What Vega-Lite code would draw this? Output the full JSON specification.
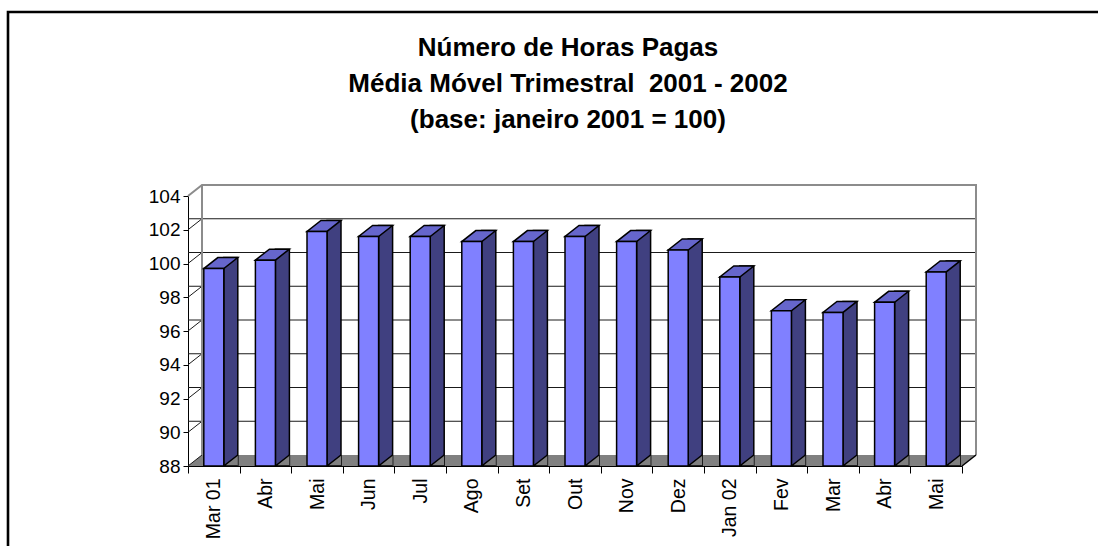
{
  "$schema": "https://vega.github.io/schema/vega-lite/v6.json",
  "autosize": "none",
  "width": 774,
  "height": 270,
  "padding": {"left": 188, "top": 196, "right": 136, "bottom": 80},
  "background": "white",
  "config": {
    "view": {"stroke": null},
    "font": "Liberation Sans",
    "axis": {"labelFont": "Liberation Sans", "labelColor": "black", "domainColor": "black", "tickColor": "black", "labelOverlap": false, "grid": false}
  },
  "title": {
    "text": ["Número de Horas Pagas", "Média Móvel Trimestral\u00a0 2001 - 2002", "(base: janeiro 2001 = 100)"],
    "font": "Liberation Sans",
    "fontSize": 26,
    "fontWeight": "bold",
    "lineHeight": 36,
    "anchor": "middle",
    "dx": -7,
    "offset": -126,
    "color": "black"
  },
  "data": {
    "values": [
      {"mes": "Mar 01", "valor": 99.7},
      {"mes": "Abr 01", "valor": 100.2},
      {"mes": "Mai 01", "valor": 101.9},
      {"mes": "Jun 01", "valor": 101.6},
      {"mes": "Jul 01", "valor": 101.6},
      {"mes": "Ago 01", "valor": 101.3},
      {"mes": "Set 01", "valor": 101.3},
      {"mes": "Out 01", "valor": 101.6},
      {"mes": "Nov 01", "valor": 101.3},
      {"mes": "Dez 01", "valor": 100.8},
      {"mes": "Jan 02", "valor": 99.2},
      {"mes": "Fev 02", "valor": 97.2},
      {"mes": "Mar 02", "valor": 97.1},
      {"mes": "Abr 02", "valor": 97.7},
      {"mes": "Mai 02", "valor": 99.5}
    ]
  },
  "layer": [
    {
      "data": {"values": [{"v": 88}]},
      "mark": {"type": "point", "shape": "M0,0 L774,0 L788,-11 L14,-11 Z", "size": 4, "filled": true, "fill": "#808080", "stroke": null, "opacity": 1},
      "encoding": {
        "x": {"datum": "Mar 01", "bandPosition": 0, "type": "nominal", "title": null,
          "scale": {"domain": ["Mar 01", "Abr 01", "Mai 01", "Jun 01", "Jul 01", "Ago 01", "Set 01", "Out 01", "Nov 01", "Dez 01", "Jan 02", "Fev 02", "Mar 02", "Abr 02", "Mai 02"], "paddingInner": 0, "paddingOuter": 0},
          "axis": {"title": null, "labelAngle": -90, "labelAlign": "right", "labelBaseline": "middle", "labelFontSize": 19.5, "labelPadding": 5, "tickBand": "extent", "tickSize": 7, "domainWidth": 1, "labelExpr": "datum.value == null ? '' : (datum.value == 'Mar 01' || datum.value == 'Jan 02' ? datum.value : substring(datum.value, 0, 3))"}},
        "y": {"field": "v", "type": "quantitative", "title": null, "scale": {"domain": [88, 104], "zero": false, "nice": false},
          "axis": {"title": null, "values": [88, 90, 92, 94, 96, 98, 100, 102, 104], "labelFontSize": 19, "tickSize": 5, "labelPadding": 3, "grid": false}}
      }
    },
    {
      "data": {"values": [{"v": 90}, {"v": 92}, {"v": 94}, {"v": 96}, {"v": 98}, {"v": 100}, {"v": 102}]},
      "mark": {"type": "rule", "color": "#1a1a1a", "strokeWidth": 1, "xOffset": 14, "x2Offset": 14, "yOffset": -11},
      "encoding": {"y": {"field": "v", "type": "quantitative", "title": null,
        "axis": {"title": null, "values": [88, 90, 92, 94, 96, 98, 100, 102, 104], "labelFontSize": 19, "tickSize": 5, "labelPadding": 3, "grid": false}}}
    },
    {
      "data": {"values": [{"v": 88}, {"v": 90}, {"v": 92}, {"v": 94}, {"v": 96}, {"v": 98}, {"v": 100}, {"v": 102}]},
      "mark": {"type": "point", "shape": "M0,0 L14,-11", "size": 4, "filled": false, "stroke": "#1a1a1a", "strokeWidth": 1, "opacity": 1},
      "encoding": {
        "x": {"datum": "Mar 01", "bandPosition": 0, "type": "nominal", "title": null,
          "axis": {"title": null, "labelAngle": -90, "labelAlign": "right", "labelBaseline": "middle", "labelFontSize": 19.5, "labelPadding": 5, "tickBand": "extent", "tickSize": 7, "domainWidth": 1, "labelExpr": "datum.value == null ? '' : (datum.value == 'Mar 01' || datum.value == 'Jan 02' ? datum.value : substring(datum.value, 0, 3))"}},
        "y": {"field": "v", "type": "quantitative", "title": null,
          "axis": {"title": null, "values": [88, 90, 92, 94, 96, 98, 100, 102, 104], "labelFontSize": 19, "tickSize": 5, "labelPadding": 3, "grid": false}}
      }
    },
    {
      "data": {"values": [{"v": 104}]},
      "mark": {"type": "point", "shape": "M0,0 L14,-11 L788,-11 L788,259 M14,-11 L14,259", "size": 4, "filled": false, "stroke": "#8c8c8c", "strokeWidth": 2, "opacity": 1},
      "encoding": {
        "x": {"datum": "Mar 01", "bandPosition": 0, "type": "nominal", "title": null,
          "axis": {"title": null, "labelAngle": -90, "labelAlign": "right", "labelBaseline": "middle", "labelFontSize": 19.5, "labelPadding": 5, "tickBand": "extent", "tickSize": 7, "domainWidth": 1, "labelExpr": "datum.value == null ? '' : (datum.value == 'Mar 01' || datum.value == 'Jan 02' ? datum.value : substring(datum.value, 0, 3))"}},
        "y": {"field": "v", "type": "quantitative", "title": null,
          "axis": {"title": null, "values": [88, 90, 92, 94, 96, 98, 100, 102, 104], "labelFontSize": 19, "tickSize": 5, "labelPadding": 3, "grid": false}}
      }
    },
    {
      "data": {"values": [{"v": 104}]},
      "mark": {"type": "point", "shape": "M-180,360 L-180,-184 L960,-184", "size": 4, "filled": false, "stroke": "black", "strokeWidth": 2.6, "opacity": 1},
      "encoding": {
        "x": {"datum": "Mar 01", "bandPosition": 0, "type": "nominal", "title": null,
          "axis": {"title": null, "labelAngle": -90, "labelAlign": "right", "labelBaseline": "middle", "labelFontSize": 19.5, "labelPadding": 5, "tickBand": "extent", "tickSize": 7, "domainWidth": 1, "labelExpr": "datum.value == null ? '' : (datum.value == 'Mar 01' || datum.value == 'Jan 02' ? datum.value : substring(datum.value, 0, 3))"}},
        "y": {"field": "v", "type": "quantitative", "title": null,
          "axis": {"title": null, "values": [88, 90, 92, 94, 96, 98, 100, 102, 104], "labelFontSize": 19, "tickSize": 5, "labelPadding": 3, "grid": false}}
      }
    },
    {
      "data": {"values": [{"v": 88}]},
      "mark": {"type": "point", "shape": "M0,0 L14,-11", "size": 4, "filled": false, "stroke": "black", "strokeWidth": 1.5, "opacity": 1},
      "encoding": {
        "x": {"datum": "Mai 02", "bandPosition": 1, "type": "nominal", "title": null,
          "axis": {"title": null, "labelAngle": -90, "labelAlign": "right", "labelBaseline": "middle", "labelFontSize": 19.5, "labelPadding": 5, "tickBand": "extent", "tickSize": 7, "domainWidth": 1, "labelExpr": "datum.value == null ? '' : (datum.value == 'Mar 01' || datum.value == 'Jan 02' ? datum.value : substring(datum.value, 0, 3))"}},
        "y": {"field": "v", "type": "quantitative", "title": null,
          "axis": {"title": null, "values": [88, 90, 92, 94, 96, 98, 100, 102, 104], "labelFontSize": 19, "tickSize": 5, "labelPadding": 3, "grid": false}}
      }
    },
    {
      "mark": {"type": "bar", "width": 14, "xOffset": 17, "yOffset": -11, "fill": "#404080", "stroke": "black", "strokeWidth": 1.5},
      "encoding": {
        "x": {"field": "mes", "type": "nominal", "title": null,
          "axis": {"title": null, "labelAngle": -90, "labelAlign": "right", "labelBaseline": "middle", "labelFontSize": 19.5, "labelPadding": 5, "tickBand": "extent", "tickSize": 7, "domainWidth": 1, "labelExpr": "datum.value == null ? '' : (datum.value == 'Mar 01' || datum.value == 'Jan 02' ? datum.value : substring(datum.value, 0, 3))"}},
        "y": {"field": "valor", "type": "quantitative", "title": null,
          "axis": {"title": null, "values": [88, 90, 92, 94, 96, 98, 100, 102, 104], "labelFontSize": 19, "tickSize": 5, "labelPadding": 3, "grid": false}},
        "y2": {"datum": 88}
      }
    },
    {
      "mark": {"type": "point", "shape": "M24,0 L10,0 L24,-11", "size": 4, "filled": true, "fill": "#808080", "stroke": "black", "strokeWidth": 1.5, "opacity": 1},
      "encoding": {
        "x": {"field": "mes", "type": "nominal", "title": null,
          "axis": {"title": null, "labelAngle": -90, "labelAlign": "right", "labelBaseline": "middle", "labelFontSize": 19.5, "labelPadding": 5, "tickBand": "extent", "tickSize": 7, "domainWidth": 1, "labelExpr": "datum.value == null ? '' : (datum.value == 'Mar 01' || datum.value == 'Jan 02' ? datum.value : substring(datum.value, 0, 3))"}},
        "y": {"datum": 88, "type": "quantitative", "title": null,
          "axis": {"title": null, "values": [88, 90, 92, 94, 96, 98, 100, 102, 104], "labelFontSize": 19, "tickSize": 5, "labelPadding": 3, "grid": false}}
      }
    },
    {
      "mark": {"type": "point", "shape": "M-10,0 L10,0 L24,-11 L4,-11 Z", "size": 4, "filled": true, "fill": "#6666CC", "stroke": "black", "strokeWidth": 1.5, "opacity": 1},
      "encoding": {
        "x": {"field": "mes", "type": "nominal", "title": null,
          "axis": {"title": null, "labelAngle": -90, "labelAlign": "right", "labelBaseline": "middle", "labelFontSize": 19.5, "labelPadding": 5, "tickBand": "extent", "tickSize": 7, "domainWidth": 1, "labelExpr": "datum.value == null ? '' : (datum.value == 'Mar 01' || datum.value == 'Jan 02' ? datum.value : substring(datum.value, 0, 3))"}},
        "y": {"field": "valor", "type": "quantitative", "title": null,
          "axis": {"title": null, "values": [88, 90, 92, 94, 96, 98, 100, 102, 104], "labelFontSize": 19, "tickSize": 5, "labelPadding": 3, "grid": false}}
      }
    },
    {
      "mark": {"type": "bar", "width": 20, "fill": "#8080FF", "stroke": "black", "strokeWidth": 1.5},
      "encoding": {
        "x": {"field": "mes", "type": "nominal", "title": null,
          "axis": {"title": null, "labelAngle": -90, "labelAlign": "right", "labelBaseline": "middle", "labelFontSize": 19.5, "labelPadding": 5, "tickBand": "extent", "tickSize": 7, "domainWidth": 1, "labelExpr": "datum.value == null ? '' : (datum.value == 'Mar 01' || datum.value == 'Jan 02' ? datum.value : substring(datum.value, 0, 3))"}},
        "y": {"field": "valor", "type": "quantitative", "title": null,
          "axis": {"title": null, "values": [88, 90, 92, 94, 96, 98, 100, 102, 104], "labelFontSize": 19, "tickSize": 5, "labelPadding": 3, "grid": false}},
        "y2": {"datum": 88}
      }
    }
  ]
}
